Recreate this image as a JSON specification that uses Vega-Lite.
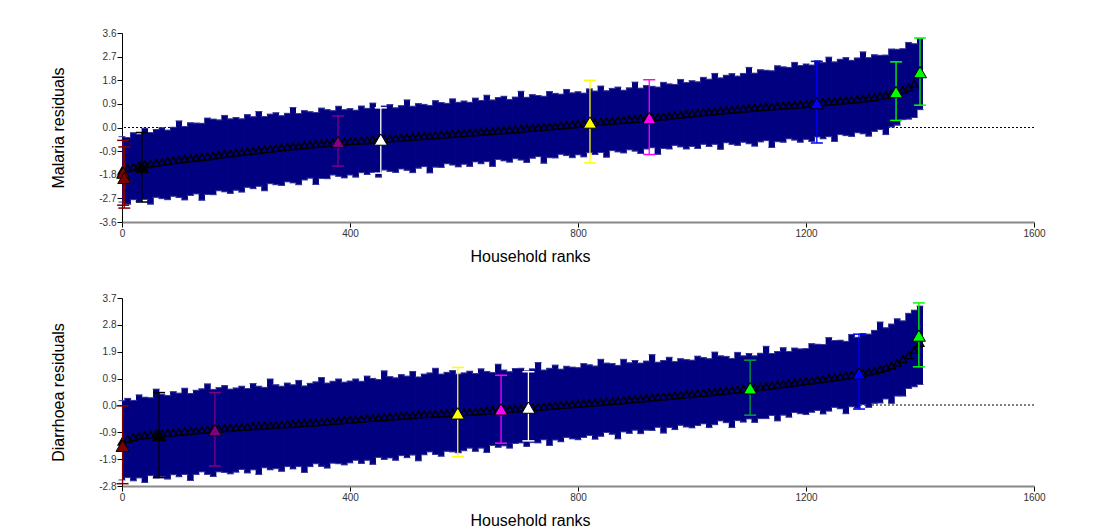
{
"$schema":"https://vega.github.io/schema/vega-lite/v6.json",
"background":"white",
"padding":{"left":49,"top":28,"right":10,"bottom":5},
"spacing":76,
"bounds":"flush",
"config":{
 "font":"Liberation Sans",
 "view":{"stroke":null},
 "tick":{"opacity":1},
 "point":{"opacity":1},
 "axis":{"grid":false,"labelOverlap":false,"labelFont":"Liberation Sans","labelFontSize":10,"labelColor":"#333333","labelFlush":false,"titleFont":"Liberation Sans","titleFontSize":16,"titleFontWeight":"normal","titleColor":"#000000","domainColor":"#000000","tickColor":"#000000"},
 "axisX":{"domainColor":"#888888","domainWidth":2,"tickSize":5,"labelPadding":1,"titleX":408,"titleY":34,"titleBaseline":"middle"},
 "axisY":{"tickSize":5,"labelPadding":1,"titleX":-64,"titleBaseline":"middle","titleAngle":-90,"titleAlign":"center"}
},
"datasets":{
"mal":[
{"r":0,"e":-1.65,"lo":-2.84,"hi":-0.35},{"r":10,"e":-1.55,"lo":-2.92,"hi":-0.38},{"r":20,"e":-1.50,"lo":-2.75,"hi":-0.20},{"r":30,"e":-1.45,"lo":-2.82,"hi":-0.26},{"r":40,"e":-1.41,"lo":-2.74,"hi":-0.03},{"r":50,"e":-1.37,"lo":-2.92,"hi":-0.19},{"r":60,"e":-1.34,"lo":-2.66,"hi":-0.08},{"r":70,"e":-1.31,"lo":-2.71,"hi":-0.01},{"r":80,"e":-1.28,"lo":-2.75,"hi":-0.10},{"r":90,"e":-1.25,"lo":-2.62,"hi":0.01},
{"r":100,"e":-1.22,"lo":-2.67,"hi":0.25},{"r":110,"e":-1.20,"lo":-2.76,"hi":0.04},{"r":120,"e":-1.17,"lo":-2.59,"hi":0.18},{"r":130,"e":-1.15,"lo":-2.53,"hi":0.17},{"r":140,"e":-1.12,"lo":-2.77,"hi":0.16},{"r":150,"e":-1.10,"lo":-2.55,"hi":0.36},{"r":160,"e":-1.07,"lo":-2.56,"hi":0.32},{"r":170,"e":-1.04,"lo":-2.41,"hi":0.29},{"r":180,"e":-1.01,"lo":-2.45,"hi":0.46},{"r":190,"e":-0.99,"lo":-2.51,"hi":0.33},
{"r":200,"e":-0.96,"lo":-2.39,"hi":0.38},{"r":210,"e":-0.93,"lo":-2.46,"hi":0.33},{"r":220,"e":-0.91,"lo":-2.28,"hi":0.49},{"r":230,"e":-0.88,"lo":-2.33,"hi":0.41},{"r":240,"e":-0.86,"lo":-2.24,"hi":0.61},{"r":250,"e":-0.83,"lo":-2.41,"hi":0.42},{"r":260,"e":-0.81,"lo":-2.14,"hi":0.51},{"r":270,"e":-0.78,"lo":-2.18,"hi":0.56},{"r":280,"e":-0.76,"lo":-2.21,"hi":0.45},{"r":290,"e":-0.73,"lo":-2.07,"hi":0.54},
{"r":300,"e":-0.71,"lo":-2.11,"hi":0.76},{"r":310,"e":-0.69,"lo":-2.18,"hi":0.53},{"r":320,"e":-0.67,"lo":-2.00,"hi":0.64},{"r":330,"e":-0.65,"lo":-1.93,"hi":0.60},{"r":340,"e":-0.63,"lo":-2.17,"hi":0.57},{"r":350,"e":-0.61,"lo":-1.94,"hi":0.74},{"r":360,"e":-0.59,"lo":-1.95,"hi":0.68},{"r":370,"e":-0.57,"lo":-1.81,"hi":0.64},{"r":380,"e":-0.56,"lo":-1.86,"hi":0.81},{"r":390,"e":-0.54,"lo":-1.92,"hi":0.68},
{"r":400,"e":-0.52,"lo":-1.81,"hi":0.72},{"r":410,"e":-0.51,"lo":-1.89,"hi":0.66},{"r":420,"e":-0.49,"lo":-1.72,"hi":0.82},{"r":430,"e":-0.48,"lo":-1.79,"hi":0.73},{"r":440,"e":-0.46,"lo":-1.71,"hi":0.93},{"r":450,"e":-0.45,"lo":-1.89,"hi":0.74},{"r":460,"e":-0.43,"lo":-1.62,"hi":0.82},{"r":470,"e":-0.42,"lo":-1.67,"hi":0.87},{"r":480,"e":-0.40,"lo":-1.71,"hi":0.75},{"r":490,"e":-0.39,"lo":-1.58,"hi":0.83},
{"r":500,"e":-0.37,"lo":-1.63,"hi":1.05},{"r":510,"e":-0.35,"lo":-1.72,"hi":0.81},{"r":520,"e":-0.34,"lo":-1.55,"hi":0.91},{"r":530,"e":-0.32,"lo":-1.49,"hi":0.88},{"r":540,"e":-0.31,"lo":-1.73,"hi":0.84},{"r":550,"e":-0.29,"lo":-1.51,"hi":1.02},{"r":560,"e":-0.27,"lo":-1.52,"hi":0.95},{"r":570,"e":-0.26,"lo":-1.38,"hi":0.92},{"r":580,"e":-0.24,"lo":-1.43,"hi":1.09},{"r":590,"e":-0.23,"lo":-1.50,"hi":0.96},
{"r":600,"e":-0.21,"lo":-1.40,"hi":1.01},{"r":610,"e":-0.19,"lo":-1.48,"hi":0.96},{"r":620,"e":-0.18,"lo":-1.31,"hi":1.12},{"r":630,"e":-0.16,"lo":-1.38,"hi":1.03},{"r":640,"e":-0.15,"lo":-1.30,"hi":1.23},{"r":650,"e":-0.13,"lo":-1.48,"hi":1.05},{"r":660,"e":-0.11,"lo":-1.22,"hi":1.14},{"r":670,"e":-0.10,"lo":-1.27,"hi":1.19},{"r":680,"e":-0.08,"lo":-1.32,"hi":1.07},{"r":690,"e":-0.07,"lo":-1.19,"hi":1.16},
{"r":700,"e":-0.05,"lo":-1.24,"hi":1.38},{"r":710,"e":-0.03,"lo":-1.33,"hi":1.15},{"r":720,"e":-0.01,"lo":-1.17,"hi":1.25},{"r":730,"e":0.00,"lo":-1.11,"hi":1.22},{"r":740,"e":0.02,"lo":-1.36,"hi":1.19},{"r":750,"e":0.04,"lo":-1.15,"hi":1.37},{"r":760,"e":0.06,"lo":-1.16,"hi":1.30},{"r":770,"e":0.08,"lo":-1.02,"hi":1.27},{"r":780,"e":0.10,"lo":-1.07,"hi":1.45},{"r":790,"e":0.12,"lo":-1.15,"hi":1.32},
{"r":800,"e":0.14,"lo":-1.04,"hi":1.36},{"r":810,"e":0.16,"lo":-1.12,"hi":1.31},{"r":820,"e":0.18,"lo":-0.96,"hi":1.47},{"r":830,"e":0.20,"lo":-1.03,"hi":1.39},{"r":840,"e":0.22,"lo":-0.95,"hi":1.58},{"r":850,"e":0.24,"lo":-1.13,"hi":1.40},{"r":860,"e":0.26,"lo":-0.88,"hi":1.49},{"r":870,"e":0.28,"lo":-0.93,"hi":1.54},{"r":880,"e":0.29,"lo":-0.97,"hi":1.42},{"r":890,"e":0.31,"lo":-0.85,"hi":1.51},
{"r":900,"e":0.33,"lo":-0.90,"hi":1.73},{"r":910,"e":0.35,"lo":-0.99,"hi":1.50},{"r":920,"e":0.37,"lo":-0.82,"hi":1.60},{"r":930,"e":0.38,"lo":-0.77,"hi":1.57},{"r":940,"e":0.40,"lo":-1.02,"hi":1.54},{"r":950,"e":0.42,"lo":-0.80,"hi":1.72},{"r":960,"e":0.44,"lo":-0.82,"hi":1.66},{"r":970,"e":0.47,"lo":-0.68,"hi":1.64},{"r":980,"e":0.49,"lo":-0.74,"hi":1.83},{"r":990,"e":0.52,"lo":-0.82,"hi":1.71},
{"r":1000,"e":0.54,"lo":-0.72,"hi":1.78},{"r":1010,"e":0.56,"lo":-0.80,"hi":1.74},{"r":1020,"e":0.58,"lo":-0.64,"hi":1.91},{"r":1030,"e":0.60,"lo":-0.72,"hi":1.84},{"r":1040,"e":0.62,"lo":-0.64,"hi":2.06},{"r":1050,"e":0.64,"lo":-0.83,"hi":1.89},{"r":1060,"e":0.66,"lo":-0.58,"hi":1.99},{"r":1070,"e":0.68,"lo":-0.64,"hi":2.05},{"r":1080,"e":0.70,"lo":-0.68,"hi":1.96},{"r":1090,"e":0.72,"lo":-0.56,"hi":2.06},
{"r":1100,"e":0.74,"lo":-0.62,"hi":2.29},{"r":1110,"e":0.76,"lo":-0.71,"hi":2.07},{"r":1120,"e":0.77,"lo":-0.55,"hi":2.20},{"r":1130,"e":0.79,"lo":-0.50,"hi":2.18},{"r":1140,"e":0.80,"lo":-0.76,"hi":2.16},{"r":1150,"e":0.82,"lo":-0.54,"hi":2.35},{"r":1160,"e":0.84,"lo":-0.56,"hi":2.31},{"r":1170,"e":0.85,"lo":-0.43,"hi":2.29},{"r":1180,"e":0.87,"lo":-0.48,"hi":2.48},{"r":1190,"e":0.88,"lo":-0.56,"hi":2.36},
{"r":1200,"e":0.90,"lo":-0.45,"hi":2.42},{"r":1210,"e":0.92,"lo":-0.53,"hi":2.38},{"r":1220,"e":0.94,"lo":-0.36,"hi":2.54},{"r":1230,"e":0.96,"lo":-0.43,"hi":2.47},{"r":1240,"e":0.98,"lo":-0.35,"hi":2.68},{"r":1250,"e":1.00,"lo":-0.53,"hi":2.50},{"r":1260,"e":1.02,"lo":-0.27,"hi":2.60},{"r":1270,"e":1.04,"lo":-0.31,"hi":2.66},{"r":1280,"e":1.06,"lo":-0.34,"hi":2.56},{"r":1290,"e":1.08,"lo":-0.20,"hi":2.65},
{"r":1300,"e":1.10,"lo":-0.24,"hi":2.88},{"r":1310,"e":1.13,"lo":-0.33,"hi":2.66},{"r":1320,"e":1.15,"lo":-0.15,"hi":2.77},{"r":1330,"e":1.20,"lo":-0.08,"hi":2.75},{"r":1340,"e":1.24,"lo":-0.27,"hi":2.76},{"r":1350,"e":1.30,"lo":0.02,"hi":2.99},{"r":1360,"e":1.36,"lo":0.09,"hi":2.98},{"r":1370,"e":1.43,"lo":0.30,"hi":3.00},{"r":1380,"e":1.52,"lo":0.32,"hi":3.24},{"r":1390,"e":1.66,"lo":0.38,"hi":3.19},
{"r":1400,"e":2.05,"lo":0.68,"hi":3.38}
],
"malh":[
{"r":2,"e":-1.72,"lo":-2.96,"hi":-0.49,"g":"dr"},{"r":4,"e":-1.92,"lo":-3.07,"hi":-0.74,"g":"dr"},{"r":35,"e":-1.50,"lo":-2.84,"hi":-0.19,"g":"bk"},{"r":379,"e":-0.55,"lo":-1.47,"hi":0.44,"g":"pu"},{"r":454,"e":-0.46,"lo":-1.74,"hi":0.75,"g":"wh"},{"r":821,"e":0.19,"lo":-1.35,"hi":1.80,"g":"ye"},{"r":925,"e":0.36,"lo":-1.03,"hi":1.82,"g":"ma"},{"r":1219,"e":0.93,"lo":-0.59,"hi":2.52,"g":"bl"},{"r":1358,"e":1.35,"lo":0.27,"hi":2.50,"g":"gr"},{"r":1400,"e":2.11,"lo":0.85,"hi":3.41,"g":"gr"}
],
"dia":[
{"r":0,"e":-1.27,"lo":-2.59,"hi":0.15},{"r":10,"e":-1.17,"lo":-2.51,"hi":0.23},{"r":20,"e":-1.11,"lo":-2.62,"hi":0.16},{"r":30,"e":-1.07,"lo":-2.52,"hi":0.35},{"r":40,"e":-1.04,"lo":-2.68,"hi":0.27},{"r":50,"e":-1.02,"lo":-2.44,"hi":0.25},{"r":60,"e":-1.00,"lo":-2.52,"hi":0.55},{"r":70,"e":-0.98,"lo":-2.47,"hi":0.37},{"r":80,"e":-0.96,"lo":-2.56,"hi":0.33},{"r":90,"e":-0.95,"lo":-2.41,"hi":0.46},
{"r":100,"e":-0.93,"lo":-2.48,"hi":0.41},{"r":110,"e":-0.91,"lo":-2.40,"hi":0.58},{"r":120,"e":-0.90,"lo":-2.61,"hi":0.40},{"r":130,"e":-0.88,"lo":-2.40,"hi":0.51},{"r":140,"e":-0.86,"lo":-2.31,"hi":0.56},{"r":150,"e":-0.85,"lo":-2.40,"hi":0.73},{"r":160,"e":-0.83,"lo":-2.47,"hi":0.54},{"r":170,"e":-0.82,"lo":-2.31,"hi":0.60},{"r":180,"e":-0.80,"lo":-2.33,"hi":0.67},{"r":190,"e":-0.79,"lo":-2.38,"hi":0.55},
{"r":200,"e":-0.77,"lo":-2.32,"hi":0.59},{"r":210,"e":-0.76,"lo":-2.23,"hi":0.65},{"r":220,"e":-0.75,"lo":-2.35,"hi":0.57},{"r":230,"e":-0.73,"lo":-2.24,"hi":0.74},{"r":240,"e":-0.72,"lo":-2.40,"hi":0.65},{"r":250,"e":-0.71,"lo":-2.17,"hi":0.61},{"r":260,"e":-0.70,"lo":-2.24,"hi":0.90},{"r":270,"e":-0.68,"lo":-2.20,"hi":0.70},{"r":280,"e":-0.67,"lo":-2.29,"hi":0.65},{"r":290,"e":-0.66,"lo":-2.13,"hi":0.76},
{"r":300,"e":-0.65,"lo":-2.21,"hi":0.70},{"r":310,"e":-0.63,"lo":-2.13,"hi":0.85},{"r":320,"e":-0.62,"lo":-2.33,"hi":0.66},{"r":330,"e":-0.61,"lo":-2.13,"hi":0.75},{"r":340,"e":-0.60,"lo":-2.03,"hi":0.80},{"r":350,"e":-0.58,"lo":-2.12,"hi":0.95},{"r":360,"e":-0.57,"lo":-2.18,"hi":0.76},{"r":370,"e":-0.55,"lo":-2.01,"hi":0.82},{"r":380,"e":-0.54,"lo":-2.03,"hi":0.90},{"r":390,"e":-0.52,"lo":-2.07,"hi":0.79},
{"r":400,"e":-0.51,"lo":-2.00,"hi":0.83},{"r":410,"e":-0.49,"lo":-1.91,"hi":0.90},{"r":420,"e":-0.48,"lo":-2.02,"hi":0.82},{"r":430,"e":-0.46,"lo":-1.91,"hi":1.00},{"r":440,"e":-0.45,"lo":-2.05,"hi":0.92},{"r":450,"e":-0.43,"lo":-1.81,"hi":0.88},{"r":460,"e":-0.42,"lo":-1.88,"hi":1.18},{"r":470,"e":-0.40,"lo":-1.83,"hi":0.98},{"r":480,"e":-0.39,"lo":-1.91,"hi":0.94},{"r":490,"e":-0.37,"lo":-1.75,"hi":1.05},
{"r":500,"e":-0.36,"lo":-1.82,"hi":1.00},{"r":510,"e":-0.35,"lo":-1.73,"hi":1.16},{"r":520,"e":-0.33,"lo":-1.93,"hi":0.97},{"r":530,"e":-0.32,"lo":-1.72,"hi":1.07},{"r":540,"e":-0.31,"lo":-1.62,"hi":1.11},{"r":550,"e":-0.30,"lo":-1.71,"hi":1.27},{"r":560,"e":-0.29,"lo":-1.77,"hi":1.07},{"r":570,"e":-0.28,"lo":-1.60,"hi":1.13},{"r":580,"e":-0.27,"lo":-1.62,"hi":1.19},{"r":590,"e":-0.26,"lo":-1.65,"hi":1.07},
{"r":600,"e":-0.25,"lo":-1.58,"hi":1.11},{"r":610,"e":-0.24,"lo":-1.49,"hi":1.17},{"r":620,"e":-0.22,"lo":-1.60,"hi":1.09},{"r":630,"e":-0.21,"lo":-1.49,"hi":1.25},{"r":640,"e":-0.19,"lo":-1.64,"hi":1.16},{"r":650,"e":-0.18,"lo":-1.40,"hi":1.12},{"r":660,"e":-0.16,"lo":-1.46,"hi":1.41},{"r":670,"e":-0.15,"lo":-1.41,"hi":1.21},{"r":680,"e":-0.14,"lo":-1.49,"hi":1.15},{"r":690,"e":-0.12,"lo":-1.33,"hi":1.26},
{"r":700,"e":-0.11,"lo":-1.31,"hi":1.27},{"r":710,"e":-0.09,"lo":-1.43,"hi":1.18},{"r":720,"e":-0.08,"lo":-1.30,"hi":1.25},{"r":730,"e":-0.06,"lo":-1.31,"hi":1.47},{"r":740,"e":-0.05,"lo":-1.20,"hi":1.21},{"r":750,"e":-0.03,"lo":-1.40,"hi":1.27},{"r":760,"e":-0.02,"lo":-1.21,"hi":1.38},{"r":770,"e":0.00,"lo":-1.27,"hi":1.24},{"r":780,"e":0.01,"lo":-1.12,"hi":1.34},{"r":790,"e":0.03,"lo":-1.17,"hi":1.31},
{"r":800,"e":0.04,"lo":-1.20,"hi":1.29},{"r":810,"e":0.06,"lo":-1.12,"hi":1.43},{"r":820,"e":0.07,"lo":-1.05,"hi":1.39},{"r":830,"e":0.09,"lo":-1.18,"hi":1.35},{"r":840,"e":0.10,"lo":-1.08,"hi":1.58},{"r":850,"e":0.12,"lo":-0.95,"hi":1.45},{"r":860,"e":0.14,"lo":-1.01,"hi":1.43},{"r":870,"e":0.15,"lo":-1.17,"hi":1.37},{"r":880,"e":0.17,"lo":-0.93,"hi":1.58},{"r":890,"e":0.19,"lo":-0.98,"hi":1.46},
{"r":900,"e":0.21,"lo":-0.87,"hi":1.54},{"r":910,"e":0.22,"lo":-0.99,"hi":1.45},{"r":920,"e":0.24,"lo":-0.87,"hi":1.52},{"r":930,"e":0.26,"lo":-0.88,"hi":1.74},{"r":940,"e":0.28,"lo":-0.77,"hi":1.48},{"r":950,"e":0.30,"lo":-0.97,"hi":1.54},{"r":960,"e":0.31,"lo":-0.78,"hi":1.65},{"r":970,"e":0.33,"lo":-0.85,"hi":1.50},{"r":980,"e":0.35,"lo":-0.70,"hi":1.60},{"r":990,"e":0.37,"lo":-0.76,"hi":1.57},
{"r":1000,"e":0.39,"lo":-0.79,"hi":1.55},{"r":1010,"e":0.41,"lo":-0.71,"hi":1.69},{"r":1020,"e":0.42,"lo":-0.65,"hi":1.64},{"r":1030,"e":0.44,"lo":-0.78,"hi":1.60},{"r":1040,"e":0.46,"lo":-0.68,"hi":1.83},{"r":1050,"e":0.48,"lo":-0.55,"hi":1.70},{"r":1060,"e":0.50,"lo":-0.61,"hi":1.68},{"r":1070,"e":0.52,"lo":-0.78,"hi":1.61},{"r":1080,"e":0.54,"lo":-0.54,"hi":1.82},{"r":1090,"e":0.56,"lo":-0.59,"hi":1.70},
{"r":1100,"e":0.58,"lo":-0.48,"hi":1.78},{"r":1110,"e":0.60,"lo":-0.60,"hi":1.70},{"r":1120,"e":0.63,"lo":-0.47,"hi":1.79},{"r":1130,"e":0.65,"lo":-0.47,"hi":2.03},{"r":1140,"e":0.68,"lo":-0.36,"hi":1.78},{"r":1150,"e":0.70,"lo":-0.55,"hi":1.85},{"r":1160,"e":0.73,"lo":-0.35,"hi":1.98},{"r":1170,"e":0.75,"lo":-0.42,"hi":1.85},{"r":1180,"e":0.78,"lo":-0.26,"hi":1.97},{"r":1190,"e":0.80,"lo":-0.30,"hi":1.94},
{"r":1200,"e":0.83,"lo":-0.33,"hi":1.95},{"r":1210,"e":0.85,"lo":-0.25,"hi":2.12},{"r":1220,"e":0.88,"lo":-0.19,"hi":2.10},{"r":1230,"e":0.90,"lo":-0.31,"hi":2.09},{"r":1240,"e":0.93,"lo":-0.21,"hi":2.33},{"r":1250,"e":0.96,"lo":-0.08,"hi":2.23},{"r":1260,"e":0.99,"lo":-0.13,"hi":2.24},{"r":1270,"e":1.02,"lo":-0.30,"hi":2.20},{"r":1280,"e":1.05,"lo":-0.06,"hi":2.44},{"r":1290,"e":1.08,"lo":-0.11,"hi":2.34},
{"r":1300,"e":1.11,"lo":0.02,"hi":2.47},{"r":1310,"e":1.15,"lo":-0.08,"hi":2.45},{"r":1320,"e":1.19,"lo":0.06,"hi":2.58},{"r":1330,"e":1.24,"lo":0.07,"hi":2.87},{"r":1340,"e":1.30,"lo":0.21,"hi":2.67},{"r":1350,"e":1.37,"lo":0.06,"hi":2.80},{"r":1360,"e":1.46,"lo":0.31,"hi":2.98},{"r":1370,"e":1.58,"lo":0.31,"hi":2.91},{"r":1380,"e":1.72,"lo":0.57,"hi":3.17},{"r":1390,"e":1.90,"lo":0.63,"hi":3.28},
{"r":1400,"e":2.15,"lo":0.71,"hi":3.42}
],
"diah":[
{"r":1,"e":-1.41,"lo":-2.72,"hi":-0.03,"g":"dr"},{"r":65,"e":-1.04,"lo":-2.51,"hi":0.43,"g":"bk"},{"r":163,"e":-0.87,"lo":-2.11,"hi":0.43,"g":"pu"},{"r":589,"e":-0.29,"lo":-1.78,"hi":1.30,"g":"ye"},{"r":665,"e":-0.15,"lo":-1.32,"hi":1.03,"g":"ma"},{"r":713,"e":-0.09,"lo":-1.24,"hi":1.15,"g":"wh"},{"r":1102,"e":0.58,"lo":-0.35,"hi":1.55,"g":"gd"},{"r":1293,"e":1.09,"lo":-0.14,"hi":2.45,"g":"bl"},{"r":1398,"e":2.40,"lo":1.32,"hi":3.53,"g":"gr"}
]
},
"vconcat":[
{
 "width":912,"height":189,
 "layer":[
  {"data":{"name":"mal"},"mark":{"type":"rule","color":"#000080","strokeWidth":6,"clip":true},
   "encoding":{
    "x":{"field":"r","type":"quantitative","scale":{"domain":[0,1600],"nice":false},"axis":{"title":"Household ranks","values":[0,400,800,1200,1600],"tickCount":20,"format":"d","labelOverlap":false}},
    "y":{"field":"lo","type":"quantitative","scale":{"domain":[-3.6,3.6],"nice":false,"zero":false},"axis":{"title":"Malaria residuals","values":[-3.6,-2.7,-1.8,-0.9,0,0.9,1.8,2.7,3.6],"tickCount":20,"labelOverlap":false,"labelFontSize":10,"labelExpr":"(datum.value < 0 ? '-' : '') + format(abs(datum.value), '.1f')","titleY":94.5}},
    "y2":{"field":"hi"}}},
  {"data":{"values":[{}]},"mark":{"type":"rule","color":"#000000","strokeDash":[2,2],"strokeWidth":1},
   "encoding":{"y":{"datum":0,"type":"quantitative"}}},
  {"data":{"name":"mal"},"mark":{"type":"rule","color":"#000080","strokeWidth":6,"clip":true},
   "encoding":{"x":{"field":"r","type":"quantitative"},"y":{"field":"lo","type":"quantitative"},"y2":{"field":"hi"}}},
  {"data":{"name":"mal"},"mark":{"type":"tick","orient":"horizontal","color":"#38389a","size":7,"thickness":1},
   "encoding":{"x":{"field":"r","type":"quantitative"},"y":{"field":"hi","type":"quantitative"}}},
  {"data":{"name":"mal"},"mark":{"type":"tick","orient":"horizontal","color":"#38389a","size":7,"thickness":1},
   "encoding":{"x":{"field":"r","type":"quantitative"},"y":{"field":"lo","type":"quantitative"}}},
  {"data":{"name":"mal"},"mark":{"type":"point","shape":"triangle-up","size":60,"filled":true,"fill":"#000080","stroke":"#000000","strokeWidth":1.4},
   "encoding":{"x":{"field":"r","type":"quantitative"},"y":{"field":"e","type":"quantitative"}}},
  {"data":{"name":"malh"},"mark":{"type":"rule","strokeWidth":1.3},
   "encoding":{"x":{"field":"r","type":"quantitative"},"y":{"field":"lo","type":"quantitative"},"y2":{"field":"hi"},
    "color":{"field":"g","type":"nominal","scale":{"domain":["dr","bk","pu","wh","ye","ma","bl","gr","gd"],"range":["#800000","#000000","#800080","#ffffff","#ffff00","#ff00ff","#0000ff","#00ff00","#00a040"]},"legend":null}}},
  {"data":{"name":"malh"},"mark":{"type":"tick","orient":"horizontal","size":12,"thickness":1.5},
   "encoding":{"x":{"field":"r","type":"quantitative"},"y":{"field":"hi","type":"quantitative"},
    "color":{"field":"g","type":"nominal","legend":null}}},
  {"data":{"name":"malh"},"mark":{"type":"tick","orient":"horizontal","size":12,"thickness":1.5},
   "encoding":{"x":{"field":"r","type":"quantitative"},"y":{"field":"lo","type":"quantitative"},
    "color":{"field":"g","type":"nominal","legend":null}}},
  {"data":{"name":"malh"},"mark":{"type":"point","shape":"triangle-up","size":170,"filled":true,"stroke":"#000000","strokeWidth":1},
   "encoding":{"x":{"field":"r","type":"quantitative"},"y":{"field":"e","type":"quantitative"},
    "fill":{"field":"g","type":"nominal","scale":{"domain":["dr","bk","pu","wh","ye","ma","bl","gr","gd"],"range":["#800000","#000000","#800080","#ffffff","#ffff00","#ff00ff","#0000ff","#00ff00","#00ff00"]},"legend":null}}}
 ]
},
{
 "width":912,"height":188,
 "layer":[
  {"data":{"name":"dia"},"mark":{"type":"rule","color":"#000080","strokeWidth":6,"clip":true},
   "encoding":{
    "x":{"field":"r","type":"quantitative","scale":{"domain":[0,1600],"nice":false},"axis":{"title":"Household ranks","values":[0,400,800,1200,1600],"tickCount":20,"format":"d","labelOverlap":false}},
    "y":{"field":"lo","type":"quantitative","scale":{"domain":[-2.8,3.7],"nice":false,"zero":false},"axis":{"title":"Diarrhoea residuals","values":[-2.8,-1.8714,-0.9429,-0.0143,0.9143,1.8429,2.7714,3.7],"tickCount":20,"labelOverlap":false,"labelFontSize":10,"labelExpr":"datum.value < -2.5 ? '-2.8' : datum.value < -1.5 ? '-1.9' : datum.value < -0.5 ? '-0.9' : datum.value < 0.5 ? '0.0' : datum.value < 1.5 ? '0.9' : datum.value < 2.5 ? '1.9' : datum.value < 3.5 ? '2.8' : '3.7'","titleY":94}},
    "y2":{"field":"hi"}}},
  {"data":{"values":[{}]},"mark":{"type":"rule","color":"#000000","strokeDash":[2,2],"strokeWidth":1},
   "encoding":{"y":{"datum":0,"type":"quantitative"}}},
  {"data":{"name":"dia"},"mark":{"type":"rule","color":"#000080","strokeWidth":6,"clip":true},
   "encoding":{"x":{"field":"r","type":"quantitative"},"y":{"field":"lo","type":"quantitative"},"y2":{"field":"hi"}}},
  {"data":{"name":"dia"},"mark":{"type":"tick","orient":"horizontal","color":"#38389a","size":7,"thickness":1},
   "encoding":{"x":{"field":"r","type":"quantitative"},"y":{"field":"hi","type":"quantitative"}}},
  {"data":{"name":"dia"},"mark":{"type":"tick","orient":"horizontal","color":"#38389a","size":7,"thickness":1},
   "encoding":{"x":{"field":"r","type":"quantitative"},"y":{"field":"lo","type":"quantitative"}}},
  {"data":{"name":"dia"},"mark":{"type":"point","shape":"triangle-up","size":60,"filled":true,"fill":"#000080","stroke":"#000000","strokeWidth":1.4},
   "encoding":{"x":{"field":"r","type":"quantitative"},"y":{"field":"e","type":"quantitative"}}},
  {"data":{"name":"diah"},"mark":{"type":"rule","strokeWidth":1.3},
   "encoding":{"x":{"field":"r","type":"quantitative"},"y":{"field":"lo","type":"quantitative"},"y2":{"field":"hi"},
    "color":{"field":"g","type":"nominal","scale":{"domain":["dr","bk","pu","wh","ye","ma","bl","gr","gd"],"range":["#800000","#000000","#800080","#ffffff","#ffff00","#ff00ff","#0000ff","#00ff00","#00a040"]},"legend":null}}},
  {"data":{"name":"diah"},"mark":{"type":"tick","orient":"horizontal","size":12,"thickness":1.5},
   "encoding":{"x":{"field":"r","type":"quantitative"},"y":{"field":"hi","type":"quantitative"},
    "color":{"field":"g","type":"nominal","legend":null}}},
  {"data":{"name":"diah"},"mark":{"type":"tick","orient":"horizontal","size":12,"thickness":1.5},
   "encoding":{"x":{"field":"r","type":"quantitative"},"y":{"field":"lo","type":"quantitative"},
    "color":{"field":"g","type":"nominal","legend":null}}},
  {"data":{"name":"diah"},"mark":{"type":"point","shape":"triangle-up","size":170,"filled":true,"stroke":"#000000","strokeWidth":1},
   "encoding":{"x":{"field":"r","type":"quantitative"},"y":{"field":"e","type":"quantitative"},
    "fill":{"field":"g","type":"nominal","scale":{"domain":["dr","bk","pu","wh","ye","ma","bl","gr","gd"],"range":["#800000","#000000","#800080","#ffffff","#ffff00","#ff00ff","#0000ff","#00ff00","#00ff00"]},"legend":null}}}
 ]
}
]
}
